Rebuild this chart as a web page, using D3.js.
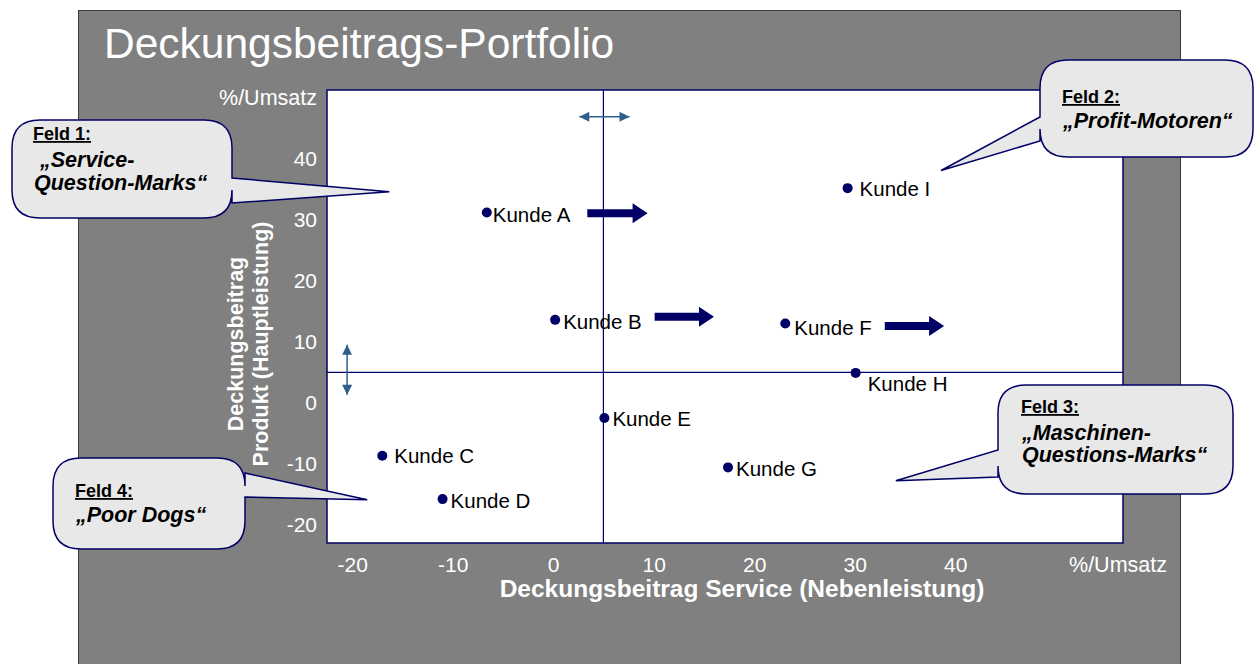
<!DOCTYPE html>
<html>
<head>
    <title>Deckungsbeitrags-Portfolio</title>
    <meta charset="utf-8">
    <script src="https://d3js.org/d3.v7.min.js"></script>
    <style>
        body { margin: 0; background: #fff; }
        svg { display: block; font-family: Arial, "Liberation Sans", sans-serif; }
        .axis text { fill: #fff; font-size: 21px; font-family: Arial, "Liberation Sans", sans-serif; }
        .kunde text { font-size: 20.5px; fill: #000; }
        .callout path { fill: #e8e8e8; stroke: #000066; stroke-width: 1.5px; }
        .callout .feld { font-size: 18px; font-weight: bold; text-decoration: underline; }
        .callout .body { font-size: 21.5px; font-weight: bold; font-style: italic; }
    </style>
</head>
<body>
<svg id="chart" width="1255" height="664"></svg>
<script>
// data (Deckungsbeitrag in %/Umsatz)
var customers  = ["Kunde A", "Kunde B", "Kunde C", "Kunde D", "Kunde E", "Kunde F", "Kunde G", "Kunde H", "Kunde I"];
var serviceDB  = [-6.6, 0.2, -17.0, -11.0, 5.1, 23.1, 17.4, 30.1, 29.3];   // x: Service (Nebenleistung)
var productDB  = [31.2, 13.6, -8.7, -15.8, -2.5, 13.0, -10.6, 4.9, 35.2];  // y: Produkt (Hauptleistung)

var xTicks = [-20, -10, 0, 10, 20, 30, 40];
var yTicks = [-20, -10, 0, 10, 20, 30, 40];
var splitX = 5, splitY = 5;

// movement arrows (from -> to, in %/Umsatz)
var moveFrom  = [3.4, 10.1, 33.0];
var moveTo    = [9.4, 16.0, 38.9];
var moveLevel = [31.1, 14.1, 12.6];

// callout texts
var feldTitles = ["Feld 1:", "Feld 2:", "Feld 3:", "Feld 4:"];
var feldNames  = [[" \u201eService-", "Question-Marks\u201c"], ["\u201eProfit-Motoren\u201c"],
                  ["\u201eMaschinen-", "Questions-Marks\u201c"], ["\u201ePoor Dogs\u201c"]];
var feldTipX   = [-16.3, 38.6, 34.1, -18.5];
var feldTipY   = [34.6, 38.1, -12.8, -15.9];

// label nudges (px) so the text sits next to the dot like in the slide
var labelNudge = [[6, 2], [8, 2], [12, 0], [8, 2], [8, 1], [9, 4], [8, 1], [12, 11], [12, 1]];

var svg = d3.select("#chart");

// grey slide panel
svg.append("rect")
    .attr("x", 78.5).attr("y", 10.5)
    .attr("width", 1102).attr("height", 700)
    .attr("fill", "#808080")
    .attr("stroke", "#3a3a3a");

svg.append("text")
    .attr("x", 104).attr("y", 58)
    .attr("fill", "#fff")
    .attr("font-size", 42.5)
    .text("Deckungsbeitrags-Portfolio");

var plot = { left: 327, right: 1123, top: 90, bottom: 543 };

var x = d3.scaleLinear().domain([-22.5, 56.7]).range([plot.left, plot.right]);
var y = d3.scaleLinear().domain([-23, 51.3]).range([plot.bottom, plot.top]);

// plot area
svg.append("rect")
    .attr("x", plot.left).attr("y", plot.top)
    .attr("width", plot.right - plot.left)
    .attr("height", plot.bottom - plot.top)
    .attr("fill", "#fff")
    .attr("stroke", "#000066")
    .attr("stroke-width", 1.5);

// quadrant lines
svg.append("line")
    .attr("x1", x(splitX)).attr("x2", x(splitX))
    .attr("y1", plot.top).attr("y2", plot.bottom)
    .attr("stroke", "#000066").attr("stroke-width", 1.2);
svg.append("line")
    .attr("x1", plot.left).attr("x2", plot.right)
    .attr("y1", y(splitY)).attr("y2", y(splitY))
    .attr("stroke", "#000066").attr("stroke-width", 1.2);

// axes (plain hyphen as minus, like the slide)
var fmt = function (d) { return String(d); };

var gx = svg.append("g").attr("class", "axis")
    .attr("transform", "translate(0," + plot.bottom + ")")
    .call(d3.axisBottom(x).tickValues(xTicks).tickFormat(fmt).tickSize(0).tickPadding(14));
gx.select(".domain").remove();

var gy = svg.append("g").attr("class", "axis")
    .attr("transform", "translate(" + plot.left + ",0)")
    .call(d3.axisLeft(y).tickValues(yTicks).tickFormat(fmt).tickSize(0).tickPadding(10));
gy.select(".domain").remove();

// unit labels
svg.append("text")
    .attr("x", plot.left - 10).attr("y", y(50)).attr("dy", "0.32em")
    .attr("text-anchor", "end").attr("fill", "#fff").attr("font-size", 21.5)
    .text("%/Umsatz");
svg.append("text")
    .attr("x", 1167).attr("y", 572)
    .attr("text-anchor", "end").attr("fill", "#fff").attr("font-size", 21.5)
    .text("%/Umsatz");

// axis titles
svg.append("text")
    .attr("x", 742).attr("y", 597)
    .attr("text-anchor", "middle").attr("fill", "#fff")
    .attr("font-size", 24.5).attr("font-weight", "bold")
    .text("Deckungsbeitrag Service (Nebenleistung)");

var yt = svg.append("text")
    .attr("transform", "translate(243,344) rotate(-90)")
    .attr("text-anchor", "middle").attr("fill", "#fff")
    .attr("font-size", 21.5).attr("font-weight", "bold");
yt.append("tspan").attr("x", 0).attr("y", 0).text("Deckungsbeitrag");
yt.append("tspan").attr("x", 0).attr("y", 25).text("Produkt (Hauptleistung)");

// double arrows showing the movable borders
var defs = svg.append("defs");
defs.append("marker")
    .attr("id", "tip")
    .attr("viewBox", "0 0 10 10")
    .attr("refX", 10).attr("refY", 5)
    .attr("markerWidth", 11).attr("markerHeight", 10)
    .attr("markerUnits", "userSpaceOnUse")
    .attr("orient", "auto-start-reverse")
    .append("path")
    .attr("d", "M0,0 L10,5 L0,10 Z")
    .attr("fill", "#2f5d8c");

svg.append("line")
    .attr("x1", x(2.6)).attr("x2", x(7.6))
    .attr("y1", y(46.9)).attr("y2", y(46.9))
    .attr("stroke", "#2f5d8c").attr("stroke-width", 1.5)
    .attr("marker-start", "url(#tip)").attr("marker-end", "url(#tip)");
svg.append("line")
    .attr("x1", x(-20.5)).attr("x2", x(-20.5))
    .attr("y1", y(9.5)).attr("y2", y(1.3))
    .attr("stroke", "#2f5d8c").attr("stroke-width", 1.5)
    .attr("marker-start", "url(#tip)").attr("marker-end", "url(#tip)");

// customers
var pts = svg.append("g").attr("class", "kunde")
    .selectAll("g")
    .data(customers)
    .enter()
    .append("g");

pts.append("circle")
    .attr("cx", function (d, i) { return x(serviceDB[i]); })
    .attr("cy", function (d, i) { return y(productDB[i]); })
    .attr("r", 5)
    .attr("fill", "#000066");

pts.append("text")
    .attr("x", function (d, i) { return x(serviceDB[i]) + labelNudge[i][0]; })
    .attr("y", function (d, i) { return y(productDB[i]) + labelNudge[i][1]; })
    .attr("dy", "0.35em")
    .text(function (d) { return d; });

// block arrows (development direction)
svg.selectAll(".move")
    .data(moveFrom)
    .enter()
    .append("path")
    .attr("class", "move")
    .attr("fill", "#000066")
    .attr("d", function (d, i) {
        var x0 = x(d), x1 = x(moveTo[i]), yc = y(moveLevel[i]);
        return "M" + x0 + "," + (yc - 4) + " H" + (x1 - 15) + " V" + (yc - 10) +
               " L" + x1 + "," + yc + " L" + (x1 - 15) + "," + (yc + 10) +
               " V" + (yc + 4) + " H" + x0 + " Z";
    });

// callouts: box, side of the pointer, pointer base, text offsets
var boxes = [
    { x0: 12,   y0: 120, x1: 232,  y1: 218, side: "right", b0: 178, b1: 203, tx: 21, ty: 20, lines: [47, 70] },
    { x0: 1040, y0: 60,  x1: 1253, y1: 157, side: "left",  b0: 117, b1: 141, tx: 22, ty: 43, lines: [68] },
    { x0: 998,  y0: 385, x1: 1233, y1: 494, side: "left",  b0: 450, b1: 477, tx: 23, ty: 28, lines: [55, 77] },
    { x0: 53,   y0: 458, x1: 245,  y1: 549, side: "right", b0: 473, b1: 497, tx: 22, ty: 39, lines: [64] }
];

function calloutPath(b, tx, ty) {
    var r = 28;
    var p = "M" + (b.x0 + r) + "," + b.y0 + " H" + (b.x1 - r) +
            " Q" + b.x1 + "," + b.y0 + " " + b.x1 + "," + (b.y0 + r);
    if (b.side === "right") {
        p += " V" + b.b0 + " L" + tx + "," + ty + " L" + b.x1 + "," + b.b1;
    }
    p += " V" + (b.y1 - r) + " Q" + b.x1 + "," + b.y1 + " " + (b.x1 - r) + "," + b.y1 +
         " H" + (b.x0 + r) + " Q" + b.x0 + "," + b.y1 + " " + b.x0 + "," + (b.y1 - r);
    if (b.side === "left") {
        p += " V" + b.b1 + " L" + tx + "," + ty + " L" + b.x0 + "," + b.b0;
    }
    p += " V" + (b.y0 + r) + " Q" + b.x0 + "," + b.y0 + " " + (b.x0 + r) + "," + b.y0 + " Z";
    return p;
}

var co = svg.selectAll(".callout")
    .data(boxes)
    .enter()
    .append("g")
    .attr("class", "callout");

co.append("path")
    .attr("d", function (b, i) { return calloutPath(b, x(feldTipX[i]), y(feldTipY[i])); });

co.append("text")
    .attr("class", "feld")
    .attr("x", function (b) { return b.x0 + b.tx; })
    .attr("y", function (b) { return b.y0 + b.ty; })
    .text(function (b, i) { return feldTitles[i]; });

co.each(function (b, i) {
    var g = d3.select(this);
    feldNames[i].forEach(function (line, k) {
        g.append("text")
            .attr("class", "body")
            .attr("x", b.x0 + b.tx + 1)
            .attr("y", b.y0 + b.lines[k])
            .attr("xml:space", "preserve")
            .style("white-space", "pre")
            .text(line);
    });
});
</script>
</body>
</html>
